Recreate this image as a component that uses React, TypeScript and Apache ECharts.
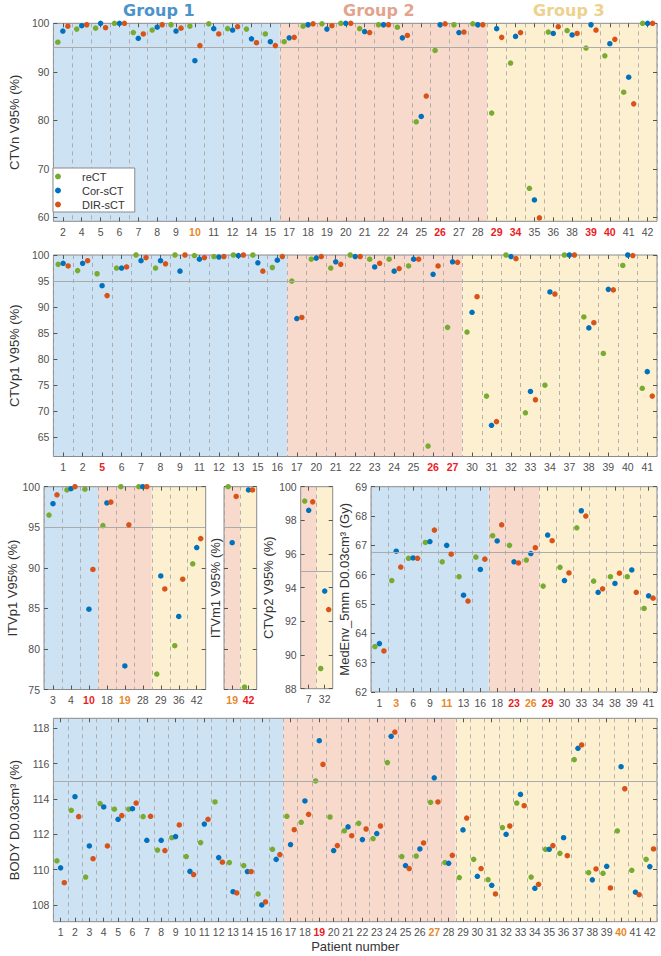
import React, { useEffect, useRef } from 'react';
import * as echarts from 'echarts';

const FONT = '"Liberation Sans", Arial, Helvetica, sans-serif';
const GREEN = '#77ac30';
const BLUE = '#0072bd';
const ORANGE = '#d95319';
const BAND_COLORS = ['#cde2f2', '#f8dacd', '#fdf0d0'];
const FRAME = '#8a8a8a';
const TICK = '#555555';
const LABEL = '#505050';
const RED_LABEL = '#ea1c24';
const ORANGE_LABEL = '#e8882a';
const SERIES_NAMES = ['reCT', 'Cor-sCT', 'DIR-sCT'];

// ---------- CTVn V95% ----------
const ctvnCats = ['2', '4', '5', '6', '7', '8', '9', '10', '11', '12', '14', '15', '17', '18', '19', '20', '21', '22', '24', '25', '26', '27', '28', '29', '34', '35', '36', '38', '39', '40', '41', '42'];
const ctvnReCT = [96.1, 98.8, 99.0, 100, 98.1, 98.6, 99.7, 99.4, 99.9, 98.9, 98.8, 97.8, 96.2, 99.4, 99.9, 100, 98.9, 99.7, 99.2, 79.7, 94.4, 99.7, 99.9, 81.5, 91.8, 66.0, 98.2, 98.5, 94.9, 93.3, 85.8, 100];
const ctvnCor = [98.4, 99.5, 100, 100, 96.9, 99.2, 98.4, 92.3, 98.9, 98.6, 96.8, 96.2, 97.0, 99.7, 98.8, 100, 98.3, 99.7, 97.0, 80.8, 99.7, 98.1, 99.7, 98.9, 97.3, 63.6, 97.9, 97.6, 99.7, 95.8, 88.9, 100];
const ctvnDir = [99.4, 99.7, 99.1, 100, 97.8, 99.7, 99.0, 95.4, 97.8, 99.3, 96.0, 95.4, 97.1, 99.9, 99.5, 100, 98.1, 99.7, 97.5, 85.0, 99.9, 98.2, 99.7, 97.1, 98.1, 59.9, 99.3, 97.9, 98.6, 96.7, 83.4, 100];
const ctvnGroupSizes = [12, 11, 9];
const ctvnRed = ['26', '29', '34', '39', '40'];
const ctvnOrange = ['10'];
const ctvnTicks = [60, 70, 80, 90, 100];

// ---------- CTVp1 V95% ----------
const ctvp1Cats = ['1', '2', '5', '6', '7', '8', '9', '11', '12', '13', '15', '16', '17', '20', '21', '22', '23', '24', '25', '26', '27', '30', '31', '32', '33', '34', '37', '38', '39', '40', '41'];
const ctvp1ReCT = [98.2, 97.0, 96.4, 97.5, 100, 97.5, 100, 99.9, 99.7, 100, 100, 97.6, 95.0, 99.2, 97.5, 100, 99.2, 99.2, 97.9, 63.3, 86.1, 85.2, 72.9, 100, 69.7, 75.0, 100, 88.1, 81.1, 98.0, 74.4];
const ctvp1Cor = [98.4, 98.4, 94.1, 97.5, 98.9, 98.9, 96.9, 99.2, 99.6, 99.9, 98.5, 99.0, 87.8, 99.4, 98.7, 99.7, 97.7, 96.9, 99.2, 96.3, 98.7, 89.0, 67.3, 99.7, 73.8, 92.9, 100, 86.0, 93.4, 100, 77.6];
const ctvp1Dir = [97.9, 98.9, 92.2, 97.7, 99.5, 98.3, 100, 99.5, 99.7, 100, 96.9, 99.7, 88.0, 99.7, 98.2, 99.7, 98.4, 97.4, 99.2, 97.9, 98.6, 92.0, 68.0, 99.3, 72.2, 92.5, 100, 87.0, 93.3, 99.9, 72.9];
const ctvp1GroupSizes = [12, 9, 10];
const ctvp1Red = ['5', '26', '27'];
const ctvp1Ticks = [65, 70, 75, 80, 85, 90, 95, 100];

// ---------- ITVp1 V95% ----------
const itvp1Cats = ['3', '4', '10', '18', '19', '28', '29', '36', '42'];
const itvp1ReCT = [96.5, 99.6, 99.7, 95.2, 100, 100, 76.9, 80.4, 90.5];
const itvp1Cor = [97.9, 99.75, 84.9, 98.0, 77.9, 100, 89.0, 84.0, 92.5];
const itvp1Dir = [99.0, 100, 89.8, 98.1, 95.3, 100, 87.4, 88.6, 93.6];
const itvp1GroupSizes = [3, 3, 3];
const itvp1Red = ['10'];
const itvp1Orange = ['19'];
const itvTicks = [75, 80, 85, 90, 95, 100];

// ---------- ITVm1 V95% ----------
const itvm1Cats = ['19', '42'];
const itvm1ReCT = [100, 75.3];
const itvm1Cor = [93.1, 99.6];
const itvm1Dir = [98.8, 99.6];
const itvm1GroupSizes = [1, 1];
const itvm1Red = ['42'];
const itvm1Orange = ['19'];

// ---------- CTVp2 V95% ----------
const ctvp2Cats = ['7', '32'];
const ctvp2ReCT = [99.15, 89.2];
const ctvp2Cor = [98.6, 93.8];
const ctvp2Dir = [99.1, 92.7];
const ctvp2GroupSizes = [1, 1];
const ctvp2Ticks = [88, 90, 92, 94, 96, 98, 100];

// ---------- MedEnv_5mm D0.03cm3 ----------
const medCats = ['1', '3', '6', '9', '11', '13', '16', '18', '23', '26', '29', '30', '33', '34', '38', '39', '41'];
const medReCT = [63.55, 65.8, 66.56, 67.1, 66.44, 65.93, 66.6, 67.33, 67.0, 66.5, 65.61, 66.25, 67.6, 65.78, 65.93, 65.93, 64.85];
const medCor = [63.65, 66.8, 66.57, 67.13, 67.0, 65.3, 66.18, 67.15, 66.44, 66.72, 67.35, 65.8, 68.18, 65.4, 65.7, 66.16, 65.28];
const medDir = [63.4, 66.26, 66.56, 67.52, 66.7, 65.1, 66.53, 67.7, 66.4, 66.92, 67.16, 66.06, 68.0, 65.52, 66.05, 65.4, 65.2];
const medGroupSizes = [7, 3, 7];
const medRed = ['23', '29'];
const medOrange = ['3', '11', '26'];
const medTicks = [62, 63, 64, 65, 66, 67, 68, 69];

// ---------- BODY D0.03cm3 ----------
const bodyCats = Array.from({ length: 42 }, (_, i) => String(i + 1));
const bodyReCT = [110.5, 113.36, 109.58, 113.74, 113.42, 113.42, 113.0, 111.11, 111.81, 110.74, 111.53, 113.83, 110.4, 110.23, 108.62, 111.15, 113.02, 112.68, 115.02, 112.98, 112.2, 112.62, 111.75, 116.06, 110.74, 110.77, 113.81, 110.4, 109.55, 110.58, 109.43, 112.38, 113.77, 109.58, 111.15, 110.92, 116.23, 109.83, 109.79, 112.19, 109.96, 110.58];
const bodyCor = [110.1, 114.13, 111.34, 113.55, 112.85, 113.45, 111.66, 111.66, 111.87, 109.9, 112.58, 110.68, 108.75, 109.89, 108.0, 110.58, 111.42, 113.89, 117.3, 111.08, 112.42, 111.7, 112.04, 117.55, 110.23, 111.17, 115.2, 110.36, 112.25, 109.62, 109.11, 112.0, 114.26, 108.94, 111.15, 111.81, 116.87, 109.42, 110.19, 115.83, 108.72, 110.17];
const bodyDir = [109.26, 113.0, 110.62, 111.34, 113.06, 113.77, 113.02, 111.08, 112.53, 109.72, 112.85, 110.42, 108.68, 109.89, 108.17, 110.85, 112.26, 113.13, 115.96, 111.36, 111.92, 112.3, 112.47, 117.79, 110.06, 111.51, 113.83, 110.81, 112.92, 110.06, 108.62, 112.47, 113.62, 109.17, 111.36, 110.79, 117.06, 110.04, 108.96, 114.58, 108.58, 111.17];
const bodyGroupSizes = [16, 12, 14];
const bodyRed = ['19'];
const bodyOrange = ['27', '40'];
const bodyTicks = [108, 110, 112, 114, 116, 118];

const groupTitles = ['Group 1', 'Group 2', 'Group 3'];

type Panel = {
  cats: string[]; values: number[][];
  bandSizes: number[]; bandColors: number[];
  red: string[]; orange: string[];
  yMin: number; yMax: number; yTicks: number[]; yLabels: boolean;
  threshold: number; yName: string; nameGap: number;
  left: number; top: number; width: number; height: number;
  off: number; xName?: string;
};

const panels: Panel[] = [
  { cats: ctvnCats, values: [ctvnReCT, ctvnCor, ctvnDir], bandSizes: ctvnGroupSizes, bandColors: [0, 1, 2], red: ctvnRed, orange: ctvnOrange,
    yMin: 59.2, yMax: 100, yTicks: ctvnTicks, yLabels: true, threshold: 95, yName: 'CTVn V95% (%)', nameGap: 26,
    left: 46, top: 23.3, width: 611, height: 198, off: 5 },
  { cats: ctvp1Cats, values: [ctvp1ReCT, ctvp1Cor, ctvp1Dir], bandSizes: ctvp1GroupSizes, bandColors: [0, 1, 2], red: ctvp1Red, orange: [],
    yMin: 61.3, yMax: 100, yTicks: ctvp1Ticks, yLabels: true, threshold: 95, yName: 'CTVp1 V95% (%)', nameGap: 26,
    left: 46, top: 255, width: 611, height: 201.5, off: 5 },
  { cats: itvp1Cats, values: [itvp1ReCT, itvp1Cor, itvp1Dir], bandSizes: itvp1GroupSizes, bandColors: [0, 1, 2], red: itvp1Red, orange: itvp1Orange,
    yMin: 75, yMax: 100, yTicks: itvTicks, yLabels: true, threshold: 95, yName: 'ITVp1 V95% (%)', nameGap: 24,
    left: 44, top: 486.7, width: 161.7, height: 202.8, off: 4 },
  { cats: itvm1Cats, values: [itvm1ReCT, itvm1Cor, itvm1Dir], bandSizes: itvm1GroupSizes, bandColors: [1, 2], red: itvm1Red, orange: itvm1Orange,
    yMin: 75, yMax: 100, yTicks: itvTicks, yLabels: false, threshold: 95, yName: 'ITVm1 V95% (%)', nameGap: 2,
    left: 224, top: 486.7, width: 32.7, height: 202.8, off: 4 },
  { cats: ctvp2Cats, values: [ctvp2ReCT, ctvp2Cor, ctvp2Dir], bandSizes: ctvp2GroupSizes, bandColors: [1, 2], red: [], orange: [],
    yMin: 88, yMax: 100, yTicks: ctvp2Ticks, yLabels: true, threshold: 95, yName: 'CTVp2 V95% (%)', nameGap: 22,
    left: 300.7, top: 486.7, width: 32, height: 202, off: 4 },
  { cats: medCats, values: [medReCT, medCor, medDir], bandSizes: medGroupSizes, bandColors: [0, 1, 2], red: medRed, orange: medOrange,
    yMin: 62, yMax: 69, yTicks: medTicks, yLabels: true, threshold: 66.75, yName: 'MedEnv_5mm D0.03cm³ (Gy)', nameGap: 18,
    left: 371, top: 486.7, width: 286, height: 205.3, off: 4.5 },
  { cats: bodyCats, values: [bodyReCT, bodyCor, bodyDir], bandSizes: bodyGroupSizes, bandColors: [0, 1, 2], red: bodyRed, orange: bodyOrange,
    yMin: 107.05, yMax: 118.57, yTicks: bodyTicks, yLabels: true, threshold: 115, yName: 'BODY D0.03cm³ (%)', nameGap: 26,
    left: 46, top: 718.3, width: 611, height: 203.4, off: 3.7, xName: 'Patient number' },
];

function buildOption() {
  const grid: any[] = [];
  const xAxis: any[] = [];
  const yAxis: any[] = [];
  const series: any[] = [];
  const colors = [GREEN, BLUE, ORANGE];

  panels.forEach((p, gi) => {
    grid.push({ left: p.left, top: p.top, width: p.width, height: p.height, show: true,
      borderColor: FRAME, borderWidth: 1, backgroundColor: 'transparent', containLabel: false });
    const xi = xAxis.length;
    const labelStyle = { fontSize: 10.5, fontFamily: FONT, color: LABEL };
    xAxis.push({
      type: 'category', gridIndex: gi, data: p.cats, boundaryGap: true, position: 'bottom',
      axisLine: { show: false, onZero: false },
      axisTick: { show: true, inside: true, alignWithLabel: true, length: 4, lineStyle: { color: TICK } },
      axisLabel: {
        interval: 0, margin: 5, ...labelStyle,
        formatter: (v: string) => p.red.includes(v) ? `{r|${v}}` : p.orange.includes(v) ? `{o|${v}}` : `{n|${v}}`,
        rich: {
          n: { ...labelStyle },
          r: { ...labelStyle, color: RED_LABEL, fontWeight: 'bold' },
          o: { ...labelStyle, color: ORANGE_LABEL, fontWeight: 'bold' },
        },
      },
      splitLine: { show: true, lineStyle: { color: '#a0a0a0', type: [4, 4], width: 0.8 } },
      name: p.xName, nameLocation: 'middle', nameGap: 18,
      nameTextStyle: { fontSize: 13, fontFamily: FONT, color: '#333' },
    });
    xAxis.push({
      type: 'category', gridIndex: gi, data: p.cats, boundaryGap: true, position: 'top',
      axisLine: { show: false, onZero: false },
      axisTick: { show: true, inside: true, alignWithLabel: true, length: 4, lineStyle: { color: TICK } },
      axisLabel: { show: false }, splitLine: { show: false },
    });
    const yi = yAxis.length;
    yAxis.push({
      type: 'value', gridIndex: gi, min: p.yMin, max: p.yMax, position: 'left',
      axisLine: { show: false, onZero: false },
      axisTick: { show: true, inside: true, length: 4, customValues: p.yTicks, lineStyle: { color: TICK } },
      axisLabel: { show: p.yLabels, customValues: p.yTicks, margin: 4, ...labelStyle },
      splitLine: { show: false },
      name: p.yName, nameLocation: 'middle', nameGap: p.nameGap,
      nameTextStyle: { fontSize: 13, fontFamily: FONT, color: '#333' },
    });
    yAxis.push({
      type: 'value', gridIndex: gi, min: p.yMin, max: p.yMax, position: 'right',
      axisLine: { show: false, onZero: false },
      axisTick: { show: true, inside: true, length: 4, customValues: p.yTicks, lineStyle: { color: TICK } },
      axisLabel: { show: false }, splitLine: { show: false },
    });

    const bands: number[][] = [];
    let start = 0;
    p.bandSizes.forEach((s, k) => {
      bands.push([start, start + s - 1, p.bandColors[k]]);
      start += s;
    });
    series.push({
      type: 'custom', xAxisIndex: xi, yAxisIndex: yi, z: -1, silent: true,
      data: bands,
      renderItem: (params: any, api: any) => {
        const s = api.value(0), e = api.value(1), c = api.value(2);
        const bw = api.size([1, 0])[0];
        const x0 = api.coord([s, p.yMin])[0] - bw / 2;
        const x1 = api.coord([e, p.yMin])[0] + bw / 2;
        const cs = params.coordSys;
        return { type: 'rect', shape: { x: x0, y: cs.y, width: x1 - x0, height: cs.height }, style: { fill: BAND_COLORS[c] } };
      },
    });

    p.values.forEach((vals, k) => {
      series.push({
        type: 'scatter', name: SERIES_NAMES[k], xAxisIndex: xi, yAxisIndex: yi,
        data: vals, symbol: 'circle', symbolSize: 5.5, symbolOffset: [(k - 1) * p.off, 0],
        itemStyle: { color: colors[k], opacity: 1 }, clip: false, z: 3 + k,
        markLine: k === 0 ? {
          silent: true, symbol: 'none', label: { show: false },
          lineStyle: { color: '#ababab', width: 1, type: 'solid' },
          data: [{ yAxis: p.threshold }],
        } : undefined,
      });
    });
  });

  const titleColors = ['#4b93c9', '#e3a48e', '#edd28d'];
  const titleLefts = [123, 343, 533];
  return {
    animation: false,
    backgroundColor: '#ffffff',
    title: groupTitles.map((t, i) => ({
      text: t, left: titleLefts[i], top: 1, padding: 0,
      textStyle: { fontSize: 16, fontWeight: 'bold', fontFamily: '"DejaVu Sans", sans-serif', color: titleColors[i], lineHeight: 18 },
    })),
    legend: {
      data: SERIES_NAMES, orient: 'vertical', left: 53, top: 168,
      itemWidth: 6, itemHeight: 6, itemGap: 3, icon: 'circle',
      padding: [3, 10, 2, 2], backgroundColor: '#ffffff', borderColor: FRAME, borderWidth: 1,
      textStyle: { fontSize: 11, fontFamily: FONT, color: '#333', padding: [0, 0, 0, 16] },
      selectedMode: false,
    },
    grid, xAxis, yAxis, series,
  };
}

export default function App() {
  const ref = useRef<HTMLDivElement>(null);
  useEffect(() => {
    const chart = echarts.init(ref.current!, null, { renderer: 'svg' });
    chart.setOption(buildOption() as any);
    return () => chart.dispose();
  }, []);
  return <div ref={ref} style={{ position: 'absolute', left: 0, top: 0, width: 661, height: 956, background: '#fff' }} />;
}
